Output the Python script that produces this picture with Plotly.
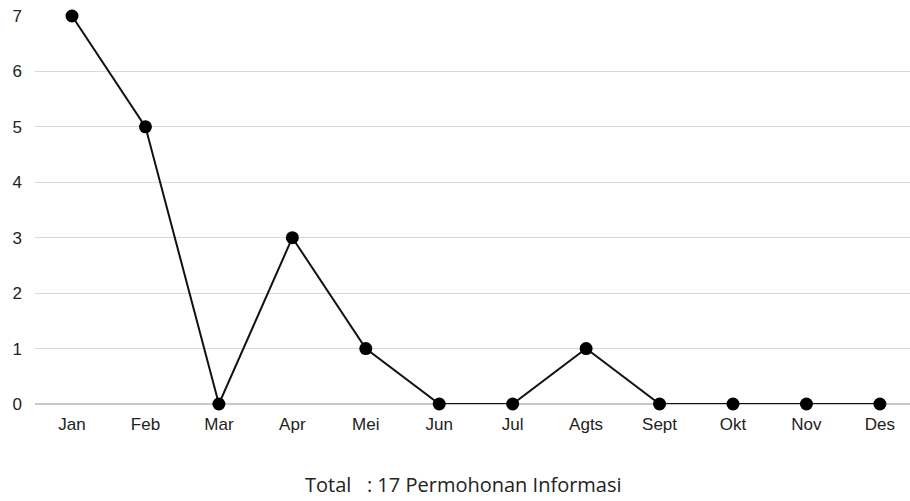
import plotly.graph_objects as go

months = ["Jan", "Feb", "Mar", "Apr", "Mei", "Jun", "Jul", "Agts", "Sept", "Okt", "Nov", "Des"]
requests = [7, 5, 0, 3, 1, 0, 0, 1, 0, 0, 0, 0]
y_ticks = [0, 1, 2, 3, 4, 5, 6, 7]
total_label = "Total   : 17 Permohonan Informasi"

positions = list(range(len(months)))

fig = go.Figure(
    go.Scatter(
        x=positions,
        y=requests,
        mode="lines+markers",
        line=dict(color="#111111", width=2),
        marker=dict(color="#000000", size=13),
        cliponaxis=False,
        hoverinfo="skip",
    )
)

fig.update_layout(
    width=910,
    height=501,
    margin=dict(l=35, r=0, t=16, b=97),
    paper_bgcolor="white",
    plot_bgcolor="white",
    showlegend=False,
    font=dict(family="Liberation Sans, Arial, sans-serif", size=17, color="#222222"),
    xaxis=dict(
        range=[-0.504, 11.41],
        tickvals=positions,
        ticktext=months,
        showgrid=False,
        zeroline=False,
        showline=False,
        ticks="",
        ticklabelstandoff=8,
    ),
    yaxis=dict(
        range=[0, 7],
        tickvals=y_ticks,
        showgrid=True,
        gridcolor="#d9d9d9",
        gridwidth=1,
        zeroline=True,
        zerolinecolor="#c8c8c8",
        zerolinewidth=2,
        showline=False,
        ticks="",
        ticklabelstandoff=12,
    ),
    annotations=[
        dict(
            text=total_label,
            xref="paper",
            yref="paper",
            x=0.49,
            y=-0.208,
            xanchor="center",
            yanchor="middle",
            showarrow=False,
            font=dict(family="Open Sans, Lato, sans-serif", size=20, color="#222222"),
        )
    ],
)

fig.write_html("out.html")
